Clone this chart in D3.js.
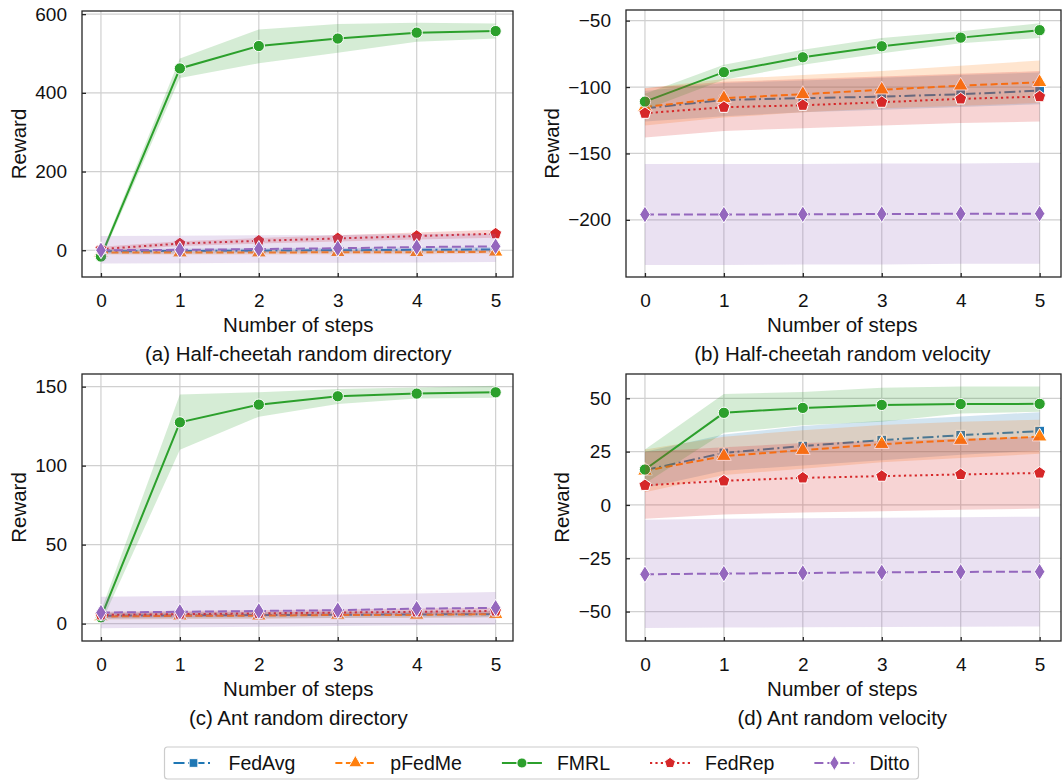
<!DOCTYPE html>
<html>
<head>
<meta charset="utf-8">
<script src="https://cdn.jsdelivr.net/npm/d3@7"></script>
<style>
  body { margin: 0; background: #fff; }
  svg { display: block; font-family: "Liberation Sans", Arial, Helvetica, sans-serif; }
</style>
</head>
<body>
<svg id="chart" width="1063" height="780"></svg>
<script>
// ---- data ----
const steps = [0, 1, 2, 3, 4, 5];
const methods = ["FedAvg", "pFedMe", "FMRL", "FedRep", "Ditto"];
const colors = ["#1f77b4", "#ff7f0e", "#2ca02c", "#d62728", "#9467bd"];

// (a) Half-cheetah random directory  (rows follow `methods`)
const hcDirMean = [
  [-3, -2, -1, 0, 1, 2],
  [-6, -6, -6, -5, -5, -4],
  [-16, 462, 519, 538, 553, 557],
  [3, 17, 24, 30, 36, 42],
  [0, 1, 3, 5, 8, 10]
];
const hcDirLow = [
  [-9, -8, -7, -6, -5, -4],
  [-11, -11, -11, -10, -10, -9],
  [-24, 438, 475, 502, 530, 538],
  [-3, 11, 17, 22, 27, 32],
  [-34, -33, -32, -32, -31, -30]
];
const hcDirHigh = [
  [3, 4, 5, 6, 7, 8],
  [-1, -1, -1, 0, 0, 1],
  [-8, 487, 561, 575, 578, 576],
  [9, 23, 31, 38, 45, 52],
  [36, 37, 38, 39, 41, 42]
];

// (b) Half-cheetah random velocity
const hcVelMean = [
  [-116, -109.7, -108.4, -107.2, -105.4, -102.7],
  [-115, -108.4, -105.4, -102, -99, -96.4],
  [-111, -88.8, -77.6, -69.3, -62.8, -57.2],
  [-119.7, -115.2, -113.7, -111.4, -108.9, -107.2],
  [-196, -196, -195.8, -195.6, -195.4, -195.3]
];
const hcVelLow = [
  [-126, -122, -119, -117, -115, -113],
  [-129, -123, -119, -116, -114, -112],
  [-117, -94.6, -83.3, -74.5, -67, -63],
  [-138, -133, -131, -129, -127, -126],
  [-234, -234, -233.5, -233.5, -233, -233]
];
const hcVelHigh = [
  [-103, -97, -95, -93, -91, -89],
  [-101, -94, -91, -88, -84, -80],
  [-105, -83.3, -72, -63, -58, -52],
  [-101, -96, -94, -92, -90, -88],
  [-158, -158, -158, -157.5, -157.5, -157]
];

// (c) Ant random directory
const antDirMean = [
  [5, 5.2, 5.4, 5.6, 5.8, 6],
  [4.5, 5, 5, 5.5, 5.5, 6],
  [4, 127.4, 138.6, 143.9, 145.6, 146.4],
  [5.5, 6, 6.5, 7, 7.5, 8],
  [7, 7.5, 8, 8.5, 9.5, 10]
];
const antDirLow = [
  [3, 3.2, 3.4, 3.6, 3.8, 4],
  [2.5, 3, 3, 3.5, 3.5, 4],
  [0, 110, 131, 139, 142.5, 143],
  [3.5, 4, 4.5, 5, 5.5, 6],
  [-3, -2.5, -2, -1.5, -1, -0.5]
];
const antDirHigh = [
  [7, 7.2, 7.4, 7.6, 7.8, 8],
  [6.5, 7, 7, 7.5, 7.5, 8],
  [8, 145, 146.5, 148.5, 149.5, 150.5],
  [7.5, 8, 8.5, 9, 9.5, 10],
  [17, 17.5, 18, 18.5, 19, 20]
];

// (d) Ant random velocity
const antVelMean = [
  [16.3, 24.4, 27.6, 30.4, 32.7, 34.6],
  [16, 22.9, 25.7, 28.5, 30.4, 32],
  [16.6, 43.2, 45.5, 46.9, 47.3, 47.4],
  [9.2, 11.3, 12.7, 13.5, 14.3, 15],
  [-32.5, -32.2, -31.9, -31.6, -31.4, -31.3]
];
const antVelLow = [
  [8, 16, 18.5, 21, 23.5, 25.5],
  [6, 14, 17, 20, 22, 24],
  [10, 33.8, 37.4, 39, 42.9, 43.7],
  [-6.5, -4.5, -3.5, -3, -2.3, -1.7],
  [-57.7, -57.5, -57.4, -57.2, -57.1, -57]
];
const antVelHigh = [
  [25, 33, 37, 39.5, 41.5, 43.5],
  [26, 32, 35, 37.5, 39, 40],
  [26, 52, 53, 55, 55.5, 55.5],
  [25, 27, 29, 30, 31, 32],
  [-7, -6.5, -6.2, -6, -5.8, -5.5]
];

const yTicksA = [0, 200, 400, 600];
const yTicksB = [-200, -150, -100, -50];
const yTicksC = [0, 50, 100, 150];
const yTicksD = [-50, -25, 0, 25, 50];

// ---- layout ----
const panels = [
  { cap: "(a) Half-cheetah random directory", mean: hcDirMean, low: hcDirLow, high: hcDirHigh,
    yDom: [-68, 608], yTicks: yTicksA, x0: 82, x1: 513, y0: 11, y1: 277 },
  { cap: "(b) Half-cheetah random velocity", mean: hcVelMean, low: hcVelLow, high: hcVelHigh,
    yDom: [-243, -42], yTicks: yTicksB, x0: 626, x1: 1061, y0: 10, y1: 277 },
  { cap: "(c) Ant random directory", mean: antDirMean, low: antDirLow, high: antDirHigh,
    yDom: [-11, 158], yTicks: yTicksC, x0: 82, x1: 513, y0: 374, y1: 641 },
  { cap: "(d) Ant random velocity", mean: antVelMean, low: antVelLow, high: antVelHigh,
    yDom: [-63.8, 61.4], yTicks: yTicksD, x0: 626, x1: 1061, y0: 374, y1: 641 }
];

const dashes = ["11,3.5,2,3.5", "7,3.5", null, "2.2,3.2", "9,4"];
const tickFont = "19px", labelFont = "20.5px";

// custom marker shapes
const symPentagon = {
  draw(ctx, size) {
    const r = Math.sqrt(size / 2.378);
    for (let i = 0; i < 5; i++) {
      const a = -Math.PI / 2 + i * 2 * Math.PI / 5;
      const px = r * Math.cos(a), py = r * Math.sin(a);
      if (i === 0) ctx.moveTo(px, py); else ctx.lineTo(px, py);
    }
    ctx.closePath();
  }
};
const symThinDiamond = {
  draw(ctx, size) {
    const h = Math.sqrt(size) * 0.85, w = h * 0.62;
    ctx.moveTo(0, -h); ctx.lineTo(w, 0); ctx.lineTo(0, h); ctx.lineTo(-w, 0); ctx.closePath();
  }
};
const symbols = [
  { type: d3.symbolSquare, size: 95 },
  { type: d3.symbolTriangle, size: 95 },
  { type: d3.symbolCircle, size: 100 },
  { type: symPentagon, size: 95 },
  { type: symThinDiamond, size: 100 }
];

const svg = d3.select("#chart");
const fmt = d3.format("");

panels.forEach(p => {
  // same x-unit spacing in both columns; right column is cut at the figure edge
  const x = d3.scaleLinear()
    .domain([-0.24, -0.24 + 5.46 * (p.x1 - p.x0) / 431])
    .range([p.x0, p.x1]);
  const y = d3.scaleLinear().domain(p.yDom).range([p.y1, p.y0]);
  const g = svg.append("g");

  // grid
  g.selectAll(".gx").data(steps).join("line")
    .attr("x1", d => x(d)).attr("x2", d => x(d))
    .attr("y1", p.y0).attr("y2", p.y1)
    .attr("stroke", "#d0d0d0").attr("stroke-width", 1.2);
  g.selectAll(".gy").data(p.yTicks).join("line")
    .attr("x1", p.x0).attr("x2", p.x1)
    .attr("y1", d => y(d)).attr("y2", d => y(d))
    .attr("stroke", "#d0d0d0").attr("stroke-width", 1.2);

  const clipId = "clip" + p.x0 + "_" + p.y0;
  svg.append("clipPath").attr("id", clipId).append("rect")
    .attr("x", p.x0).attr("y", p.y0).attr("width", p.x1 - p.x0).attr("height", p.y1 - p.y0);
  const plot = g.append("g").attr("clip-path", `url(#${clipId})`);

  methods.forEach((m, i) => {
    const rows = steps.map((s, j) => ({ s, m: p.mean[i][j], lo: p.low[i][j], hi: p.high[i][j] }));
    plot.append("path").datum(rows)
      .attr("d", d3.area().x(d => x(d.s)).y0(d => y(d.lo)).y1(d => y(d.hi)))
      .attr("fill", colors[i]).attr("fill-opacity", 0.2);
    plot.append("path").datum(rows)
      .attr("d", d3.line().x(d => x(d.s)).y(d => y(d.m)))
      .attr("fill", "none").attr("stroke", colors[i]).attr("stroke-width", 2)
      .attr("stroke-dasharray", dashes[i]);
    plot.selectAll(null).data(rows).join("path")
      .attr("transform", d => `translate(${x(d.s)},${y(d.m)})`)
      .attr("d", d3.symbol().type(symbols[i].type).size(symbols[i].size))
      .attr("fill", colors[i]).attr("stroke", "#fff").attr("stroke-width", 1);
  });

  // spines
  g.append("rect")
    .attr("x", p.x0).attr("y", p.y0).attr("width", p.x1 - p.x0).attr("height", p.y1 - p.y0)
    .attr("fill", "none").attr("stroke", "#262626").attr("stroke-width", 1.3);

  // axes, ticks pointing inward
  const ax = g.append("g").attr("transform", `translate(0,${p.y1})`)
    .call(d3.axisBottom(x).tickValues(steps).tickFormat(fmt).tickSize(-4).tickPadding(16));
  const ay = g.append("g").attr("transform", `translate(${p.x0},0)`)
    .call(d3.axisLeft(y).tickValues(p.yTicks).tickFormat(fmt).tickSize(-4).tickPadding(15));
  [ax, ay].forEach(a => {
    a.select(".domain").remove();
    a.selectAll(".tick line").attr("stroke", "#262626").attr("stroke-width", 1.3);
    a.selectAll(".tick text").attr("fill", "#111").attr("font-size", tickFont)
      .attr("font-family", '"Liberation Sans", Arial, sans-serif');
  });
  ax.selectAll(".tick text").attr("dy", "0.36em").attr("y", 23);

  let maxW = 0;
  ay.selectAll(".tick text").each(function () { maxW = Math.max(maxW, this.getComputedTextLength()); });
  const labX = p.x0 - 15 - maxW - 17;
  const cy = (p.y0 + p.y1) / 2;
  g.append("text")
    .attr("transform", `translate(${labX},${cy}) rotate(-90)`)
    .attr("text-anchor", "middle").attr("dominant-baseline", "central")
    .attr("font-size", labelFont).attr("fill", "#111").text("Reward");

  const cx = (x(0) + x(5)) / 2;
  g.append("text").attr("x", cx).attr("y", p.y1 + 48).attr("dy", "0.36em")
    .attr("text-anchor", "middle").attr("font-size", labelFont).attr("fill", "#111")
    .text("Number of steps");
  g.append("text").attr("x", cx).attr("y", p.y1 + 77).attr("dy", "0.36em")
    .attr("text-anchor", "middle").attr("font-size", labelFont).attr("fill", "#111")
    .text(p.cap);
});

// ---- legend ----
const leg = svg.append("g");
const legY = 763, handleW = 40, textGap = 15, colGap = 40, legPad = 9;
const box = leg.append("rect").attr("y", 747).attr("height", 32).attr("rx", 3)
  .attr("fill", "#fff").attr("stroke", "#cccccc").attr("stroke-width", 1.2);
let cur = 0;
const offsets = [];
const items = methods.map((m, i) => {
  const it = leg.append("g");
  it.append("line").attr("x1", 0).attr("x2", handleW).attr("y1", legY).attr("y2", legY)
    .attr("stroke", colors[i]).attr("stroke-width", 2).attr("stroke-dasharray", dashes[i]);
  it.append("path").attr("transform", `translate(${handleW / 2},${legY})`)
    .attr("d", d3.symbol().type(symbols[i].type).size(symbols[i].size * 0.8))
    .attr("fill", colors[i]).attr("stroke", "#fff").attr("stroke-width", 1);
  it.append("text").attr("x", handleW + textGap).attr("y", legY).attr("dy", "0.36em")
    .attr("font-size", "19.5px").attr("fill", "#111").text(m);
  const w = handleW + textGap + it.select("text").node().getComputedTextLength();
  offsets.push(cur);
  cur += w + colGap;
  return it;
});
const total = cur - colGap + 2 * legPad;
const left = 541.5 - total / 2;
box.attr("x", left).attr("width", total);
items.forEach((it, i) => it.attr("transform", `translate(${left + legPad + offsets[i]},0)`));
</script>
</body>
</html>
